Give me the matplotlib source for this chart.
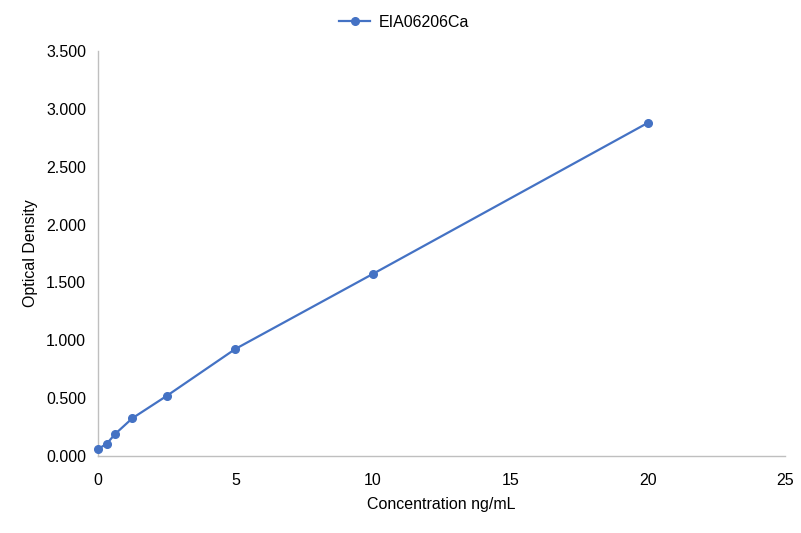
import numpy as np
import matplotlib
matplotlib.use("Agg")
import matplotlib.pyplot as plt

plt.rcParams['font.family'] = ['Liberation Sans', 'DejaVu Sans']

# standard curve data
conc = [0, 0.3125, 0.625, 1.25, 2.5, 5, 10, 20]
od = [0.060, 0.104, 0.190, 0.326, 0.519, 0.925, 1.573, 2.878]
series_name = "EIA06206Ca"

fig = plt.figure(figsize=(8.01, 5.33), dpi=100)
ax = fig.add_axes([0.1223, 0.1445, 0.8577, 0.7598])

ax.plot(conc, od, color='#4472C4', lw=1.6, marker='o', ms=5.5,
        label=series_name, clip_on=False, zorder=3)

ax.set_xlim(0, 25)
ax.set_ylim(0, 3.5)
ax.set_xticks(np.arange(0, 26, 5))
ax.set_yticks(np.arange(0, 3.51, 0.5))
ax.set_yticklabels([f"{v:.3f}" for v in np.arange(0, 3.51, 0.5)])

for s in ['top', 'right']:
    ax.spines[s].set_visible(False)
for s in ['left', 'bottom']:
    ax.spines[s].set_color('#BFBFBF')
    ax.spines[s].set_linewidth(1)
ax.tick_params(length=0, labelsize=11.5, colors='#000000')
ax.tick_params(axis='y', pad=8.5)
ax.tick_params(axis='x', pad=12)

ax.set_xlabel("Concentration ng/mL", fontsize=11.5, labelpad=7)
ax.set_ylabel("Optical Density", fontsize=11.5, labelpad=6)

ax.legend(loc='upper center', bbox_to_anchor=(0.445, 1.125), frameon=False,
          fontsize=11.5, handlelength=2.0, handletextpad=0.5)

fig.savefig("out.png", dpi=100)
